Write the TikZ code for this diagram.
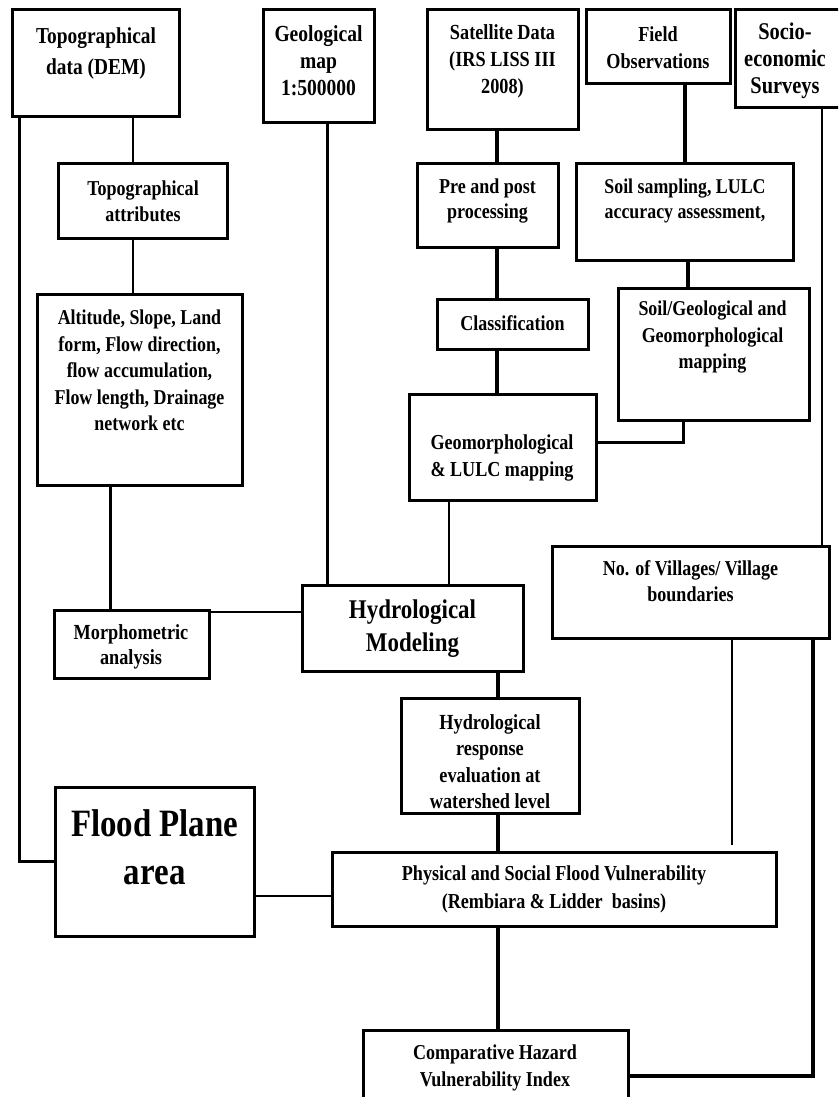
\documentclass[tikz,border=0pt]{standalone}
\usepackage{fontspec}
\setmainfont{Liberation Serif}[FakeStretch=0.85]
\newcommand\fsz[2]{\fontsize{#1}{#2}\selectfont\bfseries}
\tikzset{
  box/.style={draw, line width=3pt, rectangle, inner sep=0pt},
  txt/.style={align=center, inner sep=0pt},
  c1/.style={line width=1.4pt},
  c2/.style={line width=2pt},
  c3/.style={line width=3pt},
  c4/.style={line width=4pt},
}
\begin{document}
\begin{tikzpicture}[x=1pt,y=-1pt]
\useasboundingbox (0,0) rectangle (838,1097);
\clip (0,0) rectangle (838,1097);
\fill[white] (0,0) rectangle (838,1097);

% boxes
\node[box, minimum width=167pt, minimum height=107pt] (dem) at (95.5,63.5) {};
\node[box, minimum width=111pt, minimum height=113pt] (geo) at (318.5,66.5) {};
\node[box, minimum width=151pt, minimum height=120pt] (sat) at (502.5,70) {};
\node[box, minimum width=144pt, minimum height=74pt] (field) at (658,47) {};
\node[box, minimum width=107pt, minimum height=98pt] (socio) at (788.5,59) {};
\node[box, minimum width=169pt, minimum height=75pt] (topo) at (142.5,200.5) {};
\node[box, minimum width=141pt, minimum height=84pt] (prepost) at (487.5,205) {};
\node[box, minimum width=217pt, minimum height=97pt] (soilsamp) at (684.5,211.5) {};
\node[box, minimum width=205pt, minimum height=191pt] (alt) at (139.5,389.5) {};
\node[box, minimum width=151pt, minimum height=50pt] (classif) at (512.5,324) {};
\node[box, minimum width=191pt, minimum height=132pt] (soilgeo) at (713.5,354) {};
\node[box, minimum width=187pt, minimum height=106pt] (geomorph) at (502.5,447) {};
\node[box, minimum width=155pt, minimum height=68pt] (morph) at (131.5,644) {};
\node[box, minimum width=221pt, minimum height=86pt] (hydro) at (412.5,628) {};
\node[box, minimum width=277pt, minimum height=92pt] (villages) at (690.5,592) {};
\node[box, minimum width=178pt, minimum height=115pt] (hresp) at (490,755.5) {};
\node[box, minimum width=444pt, minimum height=74pt] (phys) at (554,889) {};
\node[box, minimum width=265pt, minimum height=80pt] (comp) at (495.5,1070) {};
\node[box, minimum width=199pt, minimum height=149pt] (flood) at (154.5,861.5) {};

% labels
\node[txt, font=\fsz{22.8}{31}] (demT) at (96,53.5) {Topographical\\data (DEM)};
\node[txt, font=\fsz{23}{27}] (geoT) at (318.5,61) {Geological\\map\\1:500000};
\node[txt, font=\fsz{21.5}{27}] (satT) at (502.5,61) {Satellite Data\\(IRS LISS III\\2008)};
\node[txt, font=\fsz{21.4}{27}] (fieldT) at (658,47.5) {Field\\Observations};
\node[txt, font=\fsz{24}{27}] (socioT) at (785,61) {Socio-\\economic\\Surveys};
\node[txt, font=\fsz{21.2}{26}] (topoT) at (143,201) {Topographical\\attributes};
\node[txt, font=\fsz{21.2}{25}] (prepostT) at (487.5,201) {Pre and post\\processing};
\node[txt, font=\fsz{21}{25}] (soilsampT) at (685,200.5) {Soil sampling, LULC\\accuracy assessment,};
\node[txt, font=\fsz{21.1}{26.4}] (altT) at (139.5,370.5) {Altitude, Slope, Land\\form, Flow direction,\\flow accumulation,\\Flow length, Drainage\\network etc};
\node[txt, font=\fsz{21.2}{26}] (classifT) at (512.5,323) {Classification};
\node[txt, font=\fsz{21.1}{26.5}] (soilgeoT) at (712.5,337.5) {Soil/Geological and\\Geomorphological\\mapping};
\node[txt, font=\fsz{21.3}{27}] (geomorphT) at (502,457.5) {Geomorphological\\\& LULC mapping};
\node[txt, font=\fsz{21.5}{25}] (morphT) at (131,646.5) {Morphometric\\analysis};
\node[txt, font=\fsz{27}{33}] (hydroT) at (412.5,628.5) {Hydrological\\Modeling};
\node[txt, font=\fsz{21.2}{26}] (villagesT) at (690.5,581) {No. of Villages/ Village\\boundaries};
\node[txt, font=\fsz{21.5}{26.3}] (hrespT) at (490,761.5) {Hydrological\\response\\evaluation at\\watershed level};
\node[txt, font=\fsz{21.3}{28}] (physT) at (554,889) {Physical and Social Flood Vulnerability\\(Rembiara \& Lidder\ \ basins)};
\node[txt, font=\fsz{21.2}{27}] (compT) at (495,1067.5) {Comparative Hazard\\Vulnerability Index};
\node[txt, font=\fsz{38.7}{48}] (floodT) at (154.7,847) {Flood Plane\\area};

% helper points for connectors that stop short of a box
\path (villages.south) ++(41.5,0) coordinate (vtop);
\path (phys.north -| vtop) ++(0,-6) coordinate (vend);

% connectors
\draw[c2] ([xshift=-9.5pt]topo.north) -- ([xshift=-9.5pt]topo.north |- dem.south);
\draw[c3] ([xshift=9pt]dem.south west) |- (flood.west);
\draw[c3] ([xshift=8.5pt]geo.south) -- ([xshift=8.5pt]geo.south |- hydro.north);
\draw[c2] ([xshift=-9.5pt]topo.south) -- ([xshift=-9.5pt]topo.south |- alt.north);
\draw[c3] ([xshift=-29.5pt]alt.south) -- ([xshift=-29.5pt]alt.south |- morph.north);
\draw[c2] ([yshift=-3pt]morph.north east) -- ([yshift=-3pt]morph.north east -| hydro.west);
\draw[c4] ([xshift=-5.5pt]sat.south) -- ([xshift=-5.5pt]sat.south |- prepost.north);
\draw[c4] ([xshift=27pt]field.south) -- ([xshift=27pt]field.south |- soilsamp.north);
\draw[c1] ([xshift=33.5pt]socio.south) -- ([xshift=33.5pt]socio.south |- villages.north);
\draw[c4] ([xshift=9.5pt]prepost.south) -- ([xshift=9.5pt]prepost.south |- classif.north);
\draw[c4] ([xshift=3.5pt]soilsamp.south) -- ([xshift=3.5pt]soilsamp.south |- soilgeo.north);
\draw[c4] ([xshift=-15.5pt]classif.south) -- ([xshift=-15.5pt]classif.south |- geomorph.north);
\draw[c3] ([xshift=-30.5pt]soilgeo.south) |- ([yshift=5pt]geomorph.east);
\draw[c1] ([xshift=-53.5pt]geomorph.south) -- ([xshift=-53.5pt]geomorph.south |- hydro.north);
\draw[c4] ([xshift=8pt]hresp.north) -- ([xshift=8pt]hresp.north |- hydro.south);
\draw[c4] ([xshift=8pt]hresp.south) -- ([xshift=8pt]hresp.south |- phys.north);
\draw[c4] ([xshift=2.5pt]comp.north) -- ([xshift=2.5pt]comp.north |- phys.south);
\draw[c1] (vtop) -- (vend);
\draw[c4] ([xshift=122.5pt]villages.south) |- ([yshift=-6pt]comp.east);
\draw[c1] ([yshift=-34.5pt]flood.east) -- ([yshift=-34.5pt]flood.east -| phys.west);
\end{tikzpicture}
\end{document}
